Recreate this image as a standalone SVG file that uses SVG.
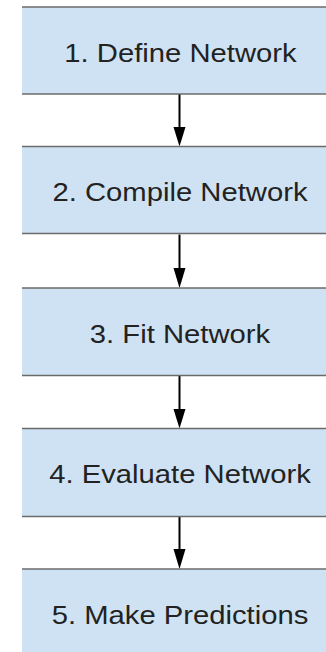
<svg xmlns="http://www.w3.org/2000/svg" width="326" height="652" viewBox="0 0 326 652">
<style>
.box{fill:#cfe2f3;}
.edge{stroke:#6b6b6b;stroke-width:1.6;fill:none;}
.lbl{font-family:"Liberation Sans",Arial,sans-serif;font-size:25px;fill:#222;text-anchor:middle;}
.conn{stroke:#000;stroke-width:2;fill:none;}
.head{fill:#000;}
</style>
<rect width="326" height="652" fill="#fff"/>
<g id="connectors">
<line class="conn" x1="179.5" y1="94" x2="179.5" y2="128"/><polygon class="head" points="173.5,127 185.5,127 179.5,146.5"/>
<line class="conn" x1="179.5" y1="234.5" x2="179.5" y2="269"/><polygon class="head" points="173.5,268 185.5,268 179.5,288"/>
<line class="conn" x1="179.5" y1="375" x2="179.5" y2="410"/><polygon class="head" points="173.5,409 185.5,409 179.5,428.5"/>
<line class="conn" x1="179.5" y1="515.5" x2="179.5" y2="550"/><polygon class="head" points="173.5,549 185.5,549 179.5,569"/>
</g>
<g id="n1"><rect class="box" x="22" y="7" width="310" height="87"/><line class="edge" x1="22" y1="7" x2="326" y2="7"/><line class="edge" x1="22" y1="94" x2="326" y2="94"/><text class="lbl" transform="translate(180.5,61.5) scale(1.17,1)">1. Define Network</text></g>
<g id="n2"><rect class="box" x="22" y="146.5" width="310" height="87"/><line class="edge" x1="22" y1="146.5" x2="326" y2="146.5"/><line class="edge" x1="22" y1="233.5" x2="326" y2="233.5"/><text class="lbl" transform="translate(180,201) scale(1.17,1)">2. Compile Network</text></g>
<g id="n3"><rect class="box" x="22" y="288" width="310" height="87.5"/><line class="edge" x1="22" y1="288" x2="326" y2="288"/><line class="edge" x1="22" y1="375.5" x2="326" y2="375.5"/><text class="lbl" transform="translate(180,342.5) scale(1.17,1)">3. Fit Network</text></g>
<g id="n4"><rect class="box" x="22" y="428.5" width="310" height="88"/><line class="edge" x1="22" y1="428.5" x2="326" y2="428.5"/><line class="edge" x1="22" y1="516.5" x2="326" y2="516.5"/><text class="lbl" transform="translate(180,483) scale(1.17,1)">4. Evaluate Network</text></g>
<g id="n5"><rect class="box" x="22" y="569" width="310" height="90"/><line class="edge" x1="22" y1="569" x2="326" y2="569"/><text class="lbl" transform="translate(180,623.5) scale(1.17,1)">5. Make Predictions</text></g>
</svg>
